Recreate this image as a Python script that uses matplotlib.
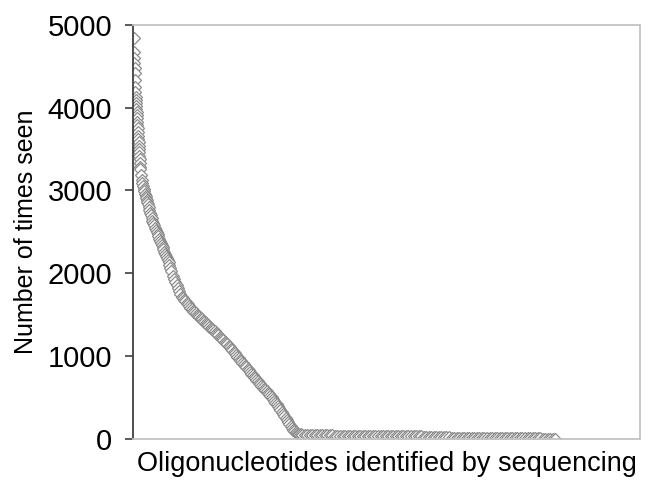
import matplotlib
matplotlib.use("Agg")
import matplotlib.pyplot as plt

plt.rcParams["font.family"] = ["Liberation Sans", "DejaVu Sans"]

# rank of each oligonucleotide (sorted by count) and how often it was seen
rank_top = [3, 4, 5, 6, 7, 8, 9, 10, 11, 12]
seen_top = [4843, 4674, 4600, 4541, 4480, 4420, 4336, 4251, 4190, 4130]

rank_steep = list(range(13, 34))
seen_steep = [4094, 4060, 4020, 3985, 3950, 3905, 3870, 3830, 3790, 3750, 3700,
              3660, 3620, 3580, 3540, 3500, 3460, 3420, 3380, 3330, 3285]

rank_knee = [35, 38, 41, 44, 47, 50, 53, 56, 59, 62, 65, 68, 71, 74, 77, 80]
seen_knee = [3260, 3190, 3128, 3090, 3055, 3020, 2990, 2960, 2935, 2910, 2890,
             2860, 2830, 2800, 2765, 2729]

rank_mid = list(range(84, 184, 4))
seen_mid = [2700, 2668, 2636, 2608, 2580, 2552, 2524, 2497, 2471, 2445, 2418,
            2392, 2367, 2341, 2314, 2288, 2262, 2236, 2210, 2184, 2158, 2130,
            2098, 2066, 2032]

rank_slope = list(range(188, 801, 6))
seen_slope = [1964, 1929, 1893, 1858, 1822, 1787, 1751, 1716, 1697, 1679, 1660,
              1642, 1623, 1605, 1586, 1568, 1549, 1531, 1515, 1501, 1486, 1472,
              1457, 1443, 1428, 1414, 1399, 1385, 1371, 1356, 1342, 1328, 1313,
              1297, 1281, 1266, 1250, 1234, 1219, 1203, 1188, 1172, 1157, 1141,
              1126, 1108, 1089, 1070, 1050, 1031, 1012, 993, 974, 956, 937, 918,
              900, 881, 863, 844, 826, 807, 788, 770, 751, 732, 714, 695, 678,
              661, 643, 626, 608, 591, 574, 556, 539, 521, 502, 481, 459, 437,
              415, 393, 371, 349, 327, 304, 280, 255, 230, 205, 180, 155, 131,
              110, 95, 82, 72, 64, 58, 53, 49]

rank_tail = list(range(812, 2001, 12))
seen_tail = [47, 46, 45, 45, 44, 44, 43, 43, 42, 42, 41, 41, 40, 40, 40, 39,
             39, 38, 38, 38, 37, 37, 37, 36, 36, 36, 35, 35, 35, 34, 34, 34,
             33, 33, 33, 32, 32, 32, 31, 31, 31, 30, 30, 30, 29, 29, 29, 28,
             28, 28, 27, 27, 27, 26, 26, 26, 25, 25,
             16, 16, 16, 15, 15, 15, 15, 14, 14, 14, 14, 13, 13, 13, 13, 12,
             12, 12, 12, 11, 11, 11, 10, 10, 10, 9, 9, 9, 8, 8, 7, 7, 6, 6,
             5, 5, 4, 4, 3, 3, 2, 2]

ranks = rank_top + rank_steep + rank_knee + rank_mid + rank_slope + rank_tail
seen = seen_top + seen_steep + seen_knee + seen_mid + seen_slope + seen_tail

fig = plt.figure(figsize=(6.49, 4.86), dpi=100)
ax = fig.add_axes([0.205, 0.097, 0.781, 0.852])

ax.plot(ranks, seen, linestyle="none", marker="D", markersize=6.0,
        markerfacecolor="white", markeredgecolor="#8c8c8c", markeredgewidth=0.9)

ax.set_xlim(0, 2400)
ax.set_ylim(0, 5000)
ax.set_yticks([0, 1000, 2000, 3000, 4000, 5000])
ax.set_xticks([])

for side in ["top", "right", "bottom"]:
    ax.spines[side].set_color("#c4c4c4")
    ax.spines[side].set_linewidth(1.3)
ax.spines["left"].set_color("#404040")
ax.spines["left"].set_linewidth(1.3)

ax.tick_params(axis="y", direction="out", length=6, width=1.2, color="#404040",
               labelsize=21, pad=9)

ax.set_ylabel("Number of times seen", fontsize=18, labelpad=7)
ax.set_xlabel("Oligonucleotides identified by sequencing", fontsize=19.5, labelpad=9)

fig.savefig("out.png", dpi=100)
